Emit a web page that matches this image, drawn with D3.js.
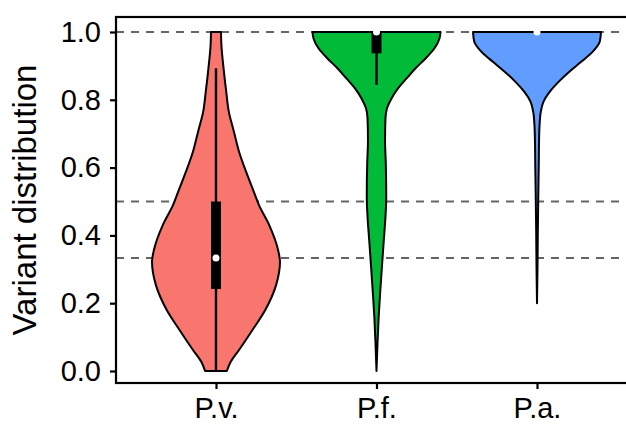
<!DOCTYPE html>
<html>
<head>
<meta charset="utf-8">
<script src="https://cdn.jsdelivr.net/npm/d3@7"></script>
<style>
  html, body { margin: 0; padding: 0; background: #fff; }
  svg { display: block; }
  text { font-family: "Liberation Sans", Arial, Helvetica, sans-serif; }
</style>
</head>
<body>
<svg id="chart" width="626" height="426"></svg>
<script>
// ---- data ----
const categories = ["P.v.", "P.f.", "P.a."];
const colors = ["#F8766D", "#00BA38", "#619CFF"];

// violin density profiles (value, relative half-width)
const pvValues = [0, 0.027, 0.062, 0.121, 0.18, 0.254, 0.322, 0.357, 0.431, 0.49, 0.529, 0.588, 0.647, 0.706, 0.765, 0.824, 0.89, 0.96, 1.0];
const pvWidths = [0.17, 0.23, 0.36, 0.57, 0.77, 0.94, 1.0, 0.97, 0.83, 0.67, 0.59, 0.47, 0.36, 0.28, 0.2, 0.16, 0.12, 0.085, 0.078];

const pfValues = [0, 0.083, 0.16, 0.239, 0.319, 0.386, 0.455, 0.514, 0.614, 0.68, 0.745, 0.775, 0.804, 0.834, 0.863, 0.893, 0.922, 0.952, 0.981, 1.0];
const pfWidths = [0, 0.016, 0.034, 0.06, 0.089, 0.114, 0.14, 0.152, 0.145, 0.133, 0.14, 0.164, 0.234, 0.336, 0.47, 0.61, 0.766, 0.906, 0.984, 1.0];

const paValues = [0.2, 0.308, 0.407, 0.504, 0.603, 0.696, 0.726, 0.765, 0.794, 0.824, 0.853, 0.883, 0.912, 0.942, 0.971, 1.0];
const paWidths = [0, 0.008, 0.0125, 0.019, 0.027, 0.034, 0.04, 0.06, 0.1, 0.2, 0.336, 0.505, 0.69, 0.87, 0.98, 1.0];

// box-plot summaries: [whiskerLow, q1, median, q3, whiskerHigh]
const pvBox = [0, 0.242, 0.333, 0.5, 0.893];
const pfBox = [0.844, 0.937, 1.0, 1.0, 1.0];
const paBox = [1.0, 1.0, 1.0, 1.0, 1.0];

const refLines = [1.0, 0.5, 1 / 3];
const yTicks = [0, 0.2, 0.4, 0.6, 0.8, 1.0];
const yTitle = "Variant distribution";

// ---- build ----
const profiles = [
  { values: pvValues, widths: pvWidths, box: pvBox },
  { values: pfValues, widths: pfWidths, box: pfBox },
  { values: paValues, widths: paWidths, box: paBox }
];

const svg = d3.select("#chart");
const panel = { left: 116, right: 637, top: 17, bottom: 383 };

const x = d3.scalePoint().domain(categories).range([panel.left, panel.right]).padding(0.623);
const y = d3.scaleLinear().domain([0, 1]).range([371, 32]);
const halfW = d3.scaleLinear().domain([0, 1]).range([0, 64]);

// reference dashed lines
svg.append("g").selectAll("line").data(refLines).join("line")
  .attr("x1", panel.left).attr("x2", panel.right)
  .attr("y1", d => y(d)).attr("y2", d => y(d))
  .attr("stroke", "#666666").attr("stroke-width", 2.2)
  .attr("stroke-dasharray", "8,7");

// violins
const g = svg.append("g");
categories.forEach((cat, i) => {
  const p = profiles[i];
  const cx = x(cat);
  const pts = p.values.map((v, j) => ({ v, w: p.widths[j] }));
  const area = d3.area()
    .y(d => y(d.v))
    .x0(d => cx - halfW(d.w))
    .x1(d => cx + halfW(d.w))
    .curve(d3.curveMonotoneY);
  g.append("path").datum(pts)
    .attr("d", area)
    .attr("fill", colors[i])
    .attr("stroke", "#000").attr("stroke-width", 2)
    .attr("stroke-linejoin", "round");

  const [lo, q1, med, q3, hi] = p.box;
  if (hi > lo) {
    g.append("line")
      .attr("x1", cx).attr("x2", cx)
      .attr("y1", y(lo)).attr("y2", y(hi))
      .attr("stroke", "#000").attr("stroke-width", 2.4);
  }
  if (q3 > q1) {
    g.append("rect")
      .attr("x", cx - 5).attr("width", 10)
      .attr("y", y(q3)).attr("height", y(q1) - y(q3))
      .attr("fill", "#000");
  }
  g.append("circle")
    .attr("cx", cx).attr("cy", y(med)).attr("r", 3.5)
    .attr("fill", "#fff");
});

// panel border
svg.append("rect")
  .attr("x", panel.left).attr("y", panel.top)
  .attr("width", panel.right - panel.left).attr("height", panel.bottom - panel.top)
  .attr("fill", "none").attr("stroke", "#000").attr("stroke-width", 2.2);

// y axis
const yAxis = d3.axisLeft(y).tickValues(yTicks).tickFormat(d3.format(".1f")).tickSize(6).tickPadding(9);
const ya = svg.append("g").attr("transform", `translate(${panel.left},0)`).call(yAxis);
ya.select(".domain").remove();
ya.selectAll(".tick line").attr("stroke", "#000").attr("stroke-width", 2.2);
ya.selectAll(".tick text").attr("fill", "#000").style("font-size", "29px")
  .style("font-family", "'Liberation Sans', Arial, sans-serif");

// x axis
const xAxis = d3.axisBottom(x).tickSize(6).tickPadding(8);
const xa = svg.append("g").attr("transform", `translate(0,${panel.bottom})`).call(xAxis);
xa.select(".domain").remove();
xa.selectAll(".tick line").attr("stroke", "#000").attr("stroke-width", 2.2);
xa.selectAll(".tick text").attr("fill", "#000").style("font-size", "29px")
  .style("font-family", "'Liberation Sans', Arial, sans-serif");

// y title
svg.append("text")
  .attr("transform", `translate(36,${(panel.top + panel.bottom) / 2}) rotate(-90)`)
  .attr("text-anchor", "middle")
  .style("font-size", "33px")
  .attr("fill", "#000")
  .text(yTitle);
</script>
</body>
</html>
